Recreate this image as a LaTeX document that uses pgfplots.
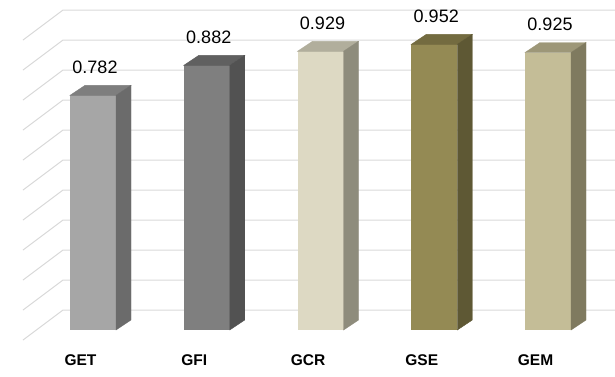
\documentclass[border=0pt]{standalone}
\usepackage{fontspec}
\setmainfont{Liberation Sans}
\usepackage{pgfplots}
\usepackage{pgfplotstable}
\pgfplotsset{compat=1.18}
\pgfdeclareplotmark{nomark}{}
\definecolor{gridc}{HTML}{D9D9D9}
\definecolor{fA}{HTML}{A6A6A6}\definecolor{tA}{HTML}{7E7E7E}\definecolor{sA}{HTML}{6B6B6B}
\definecolor{fB}{HTML}{7F7F7F}\definecolor{tB}{HTML}{606060}\definecolor{sB}{HTML}{525252}
\definecolor{fC}{HTML}{DDD9C3}\definecolor{tC}{HTML}{B1AE9C}\definecolor{sC}{HTML}{8E8C7C}
\definecolor{fD}{HTML}{948A54}\definecolor{tD}{HTML}{736B40}\definecolor{sD}{HTML}{5E5834}
\definecolor{fE}{HTML}{C4BD97}\definecolor{tE}{HTML}{9D9778}\definecolor{sE}{HTML}{7F7A5F}
\pgfplotstableread{
x v
0 0.782
1 0.882
2 0.929
3 0.952
4 0.925
}\bars
\pgfplotsset{
  front/.style={ybar, bar width=46pt, bar shift=0pt, fill=#1, draw=none},
  faces/.style 2 args={scatter, only marks, mark=nomark, point meta=y,
    scatter/@pre marker code/.code={%
      \begingroup
      \pgfkeys{/pgf/fpu=true,/pgf/fpu/output format=fixed}%
      \pgfmathparse{300*\pgfplotspointmeta}\xdef\hh{\pgfmathresult}%
      \pgfmathparse{1*\pgfplotspointmeta}\xdef\vvv{\pgfmathresult}%
      \endgroup
      \fill[#1] (-23pt,0pt) -- (-8pt,10pt) -- (38pt,10pt) -- (23pt,0pt) -- cycle;
      \fill[#2] (23pt,0pt) -- (38pt,10pt) -- (38pt,{10pt-\hh pt}) -- (23pt,{-\hh pt}) -- cycle;
      \node[anchor=base, font=\fontsize{18}{20}\selectfont, inner sep=0pt, text=black] at (2pt,22pt)
        {\pgfmathprintnumber[fixed,precision=3,zerofill,assume math mode=true]{\vvv}};
    },
    scatter/@post marker code/.code={}},
}
\begin{document}
\begin{tikzpicture}
\useasboundingbox (0,0) rectangle (615pt,376pt);
\begin{axis}[
  at={(2pt,46pt)}, anchor=south west,
  x=113.75pt, y=300pt,
  xmin=-0.8, xmax=4.6, ymin=0, ymax=1.1,
  clip=false,
  axis line style={draw=none},
  tick style={draw=none},
  ytick=\empty,
  xtick={0,1,2,3,4},
  xticklabels={GET,GFI,GCR,GSE,GEM},
  xticklabel style={font=\bfseries\fontsize{15.5}{17}\selectfont, anchor=base, yshift=-35pt, xshift=-12.5pt, inner sep=0pt},
]
\pgfplotsinvokeforeach{0,0.1,0.2,0.3,0.4,0.5,0.6,0.7,0.8,0.9,1.0}{
  \draw[gridc, line width=1pt] ([yshift=-10pt]axis cs:-0.6154,#1) -- ([yshift=20pt]axis cs:-0.2637,#1) -- ([yshift=20pt]axis cs:4.6,#1);
}
\addplot[front=fA, restrict x to domain=-0.2:0.2] table[x=x,y=v]{\bars};
\addplot[front=fB, restrict x to domain=0.8:1.2] table[x=x,y=v]{\bars};
\addplot[front=fC, restrict x to domain=1.8:2.2] table[x=x,y=v]{\bars};
\addplot[front=fD, restrict x to domain=2.8:3.2] table[x=x,y=v]{\bars};
\addplot[front=fE, restrict x to domain=3.8:4.2] table[x=x,y=v]{\bars};
\addplot[faces={tA}{sA}, restrict x to domain=-0.2:0.2] table[x=x,y=v]{\bars};
\addplot[faces={tB}{sB}, restrict x to domain=0.8:1.2] table[x=x,y=v]{\bars};
\addplot[faces={tC}{sC}, restrict x to domain=1.8:2.2] table[x=x,y=v]{\bars};
\addplot[faces={tD}{sD}, restrict x to domain=2.8:3.2] table[x=x,y=v]{\bars};
\addplot[faces={tE}{sE}, restrict x to domain=3.8:4.2] table[x=x,y=v]{\bars};
\end{axis}
\end{tikzpicture}
\end{document}
